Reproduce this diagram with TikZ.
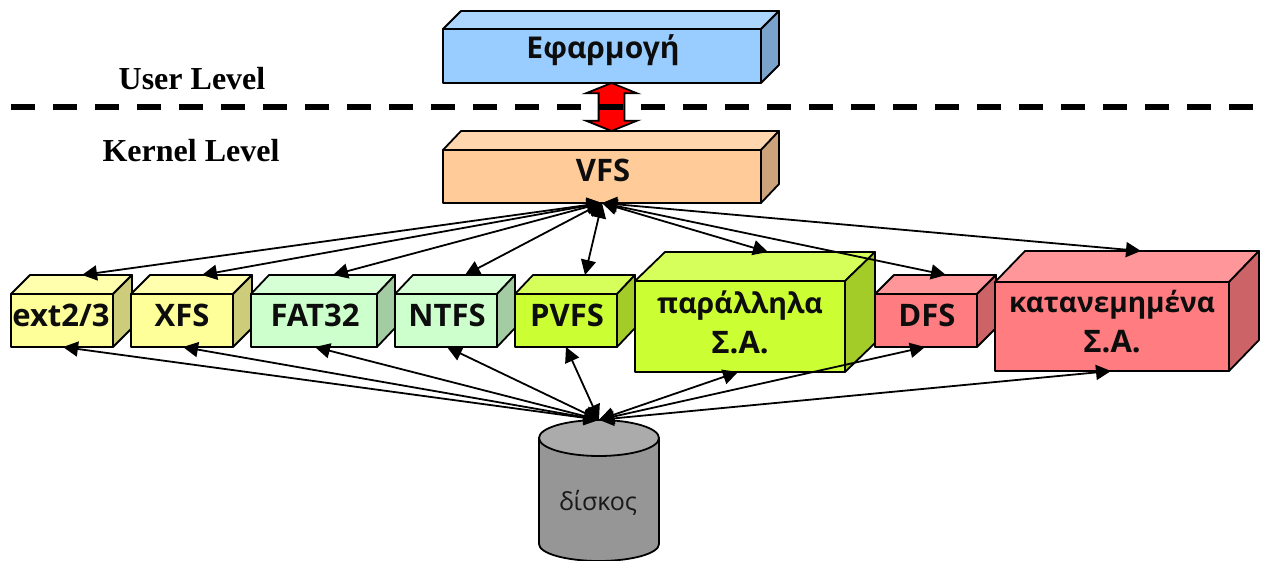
\documentclass[tikz,border=0pt]{standalone}
\usepackage{fontspec}
\setmainfont{Open Sans}
\newfontfamily\serifbold{Liberation Serif}
\usetikzlibrary{arrows.meta,shapes.arrows}
\definecolor{blueF}{HTML}{99CCFF}\definecolor{blueT}{HTML}{ADD6FF}\definecolor{blueS}{HTML}{7AA3CC}
\definecolor{orF}{HTML}{FFCC99}\definecolor{orT}{HTML}{FFD6AD}\definecolor{orS}{HTML}{CCA37A}
\definecolor{yeF}{HTML}{FFFF99}\definecolor{yeT}{HTML}{FFFFAD}\definecolor{yeS}{HTML}{CCCC7A}
\definecolor{grF}{HTML}{CCFFCC}\definecolor{grT}{HTML}{D6FFD6}\definecolor{grS}{HTML}{A3CCA3}
\definecolor{liF}{HTML}{CCFF33}\definecolor{liT}{HTML}{D6FF5C}\definecolor{liS}{HTML}{A3CC29}
\definecolor{piF}{HTML}{FF7C80}\definecolor{piT}{HTML}{FF9699}\definecolor{piS}{HTML}{CC6366}
\definecolor{diskF}{HTML}{969696}\definecolor{diskT}{HTML}{ABABAB}
\tikzset{
  edge/.style={draw=black,line width=1.8pt,line join=round},
  conn/.style={line width=1.8pt,{Triangle[length=15pt,width=15pt]}-{Triangle[length=15pt,width=15pt]}},
  boxlabel/.style={font=\fontsize{31}{40}\selectfont\bfseries,inner sep=0pt,align=center,text=black!95},
  levellabel/.style={font=\serifbold\fontsize{32}{36}\selectfont\bfseries,inner sep=0pt},
  frontface/.style={edge,inner sep=0pt,outer sep=0pt},
}
% name, x1, y1, x2, y2, dx, dy, colour prefix
\newcommand{\cubebox}[8]{%
  \draw[edge,fill=#8T] (#2,#3) -- ++(#6,-#7) -- (#4+#6,#3-#7) -- (#4,#3) -- cycle;
  \draw[edge,fill=#8S] (#4,#3) -- ++(#6,-#7) -- (#4+#6,#5-#7) -- (#4,#5) -- cycle;
  \node[frontface,fill=#8F,minimum width={(#4-#2)*1pt},minimum height={(#5-#3)*1pt}] (#1) at ({(#2+#4)/2},{(#3+#5)/2}) {};
}
\newcommand{\fsz}[1]{\fontsize{#1}{40}\selectfont}
\begin{document}
\begin{tikzpicture}[x=1pt,y=-1pt]
\useasboundingbox (0,0) rectangle (1263,561);
\fill[white] (0,0) rectangle (1263,561);

\cubebox{app}{443}{29}{761}{83}{18}{18}{blue}
\cubebox{vfs}{443}{150}{761}{203}{18}{19}{or}

\node[double arrow,draw=black,line width=1.8pt,fill=red,rotate=90,inner xsep=0pt,inner ysep=12pt,
  minimum height=48pt,minimum width=49pt,double arrow head extend=12.5pt,double arrow tip angle=136] (io) at (611.5,107) {};
\draw[line width=6pt,dash pattern=on 24pt off 18pt] (11,107) -- (1255,107);

\cubebox{ext}{11}{294}{113}{347}{19}{19}{ye}
\cubebox{xfs}{131}{294}{233}{347}{19}{19}{ye}
\cubebox{fat}{251}{294}{377}{347}{18}{19}{gr}
\cubebox{ntfs}{395}{294}{497}{347}{18}{19}{gr}
\cubebox{pvfs}{515}{294}{617}{347}{18}{19}{li}
\cubebox{par}{635}{281}{845}{372}{30}{29}{li}
\cubebox{dfs}{875}{294}{977}{347}{19}{19}{pi}
\cubebox{dist}{995}{282}{1229}{371}{30}{31}{pi}

% disk
\fill[diskF] (539,438) -- (539,544) arc[start angle=180,end angle=0,x radius=60,y radius=17] -- (659,438) -- cycle;
\draw[edge] (539,438) -- (539,544) arc[start angle=180,end angle=0,x radius=60,y radius=17] -- (659,438);
\draw[edge,fill=diskT] (599,438) ellipse[x radius=60,y radius=18];
\node[inner sep=0pt,minimum width=120pt,minimum height=141pt] (disk) at (599,490.5) {};
\node[inner sep=0pt,font=\fontsize{25}{28}\selectfont,text=black!90] (disktext) at (598,503) {δίσκος};

% labels
\node[boxlabel,font=\fontsize{30}{40}\selectfont\bfseries] (applabel) at (603,50) {Εφαρμογή};
\node[boxlabel] (vfslabel) at (603,170) {VFS};
\node[boxlabel] (extlabel) at (61,315) {ext2/3};
\node[boxlabel] (xfslabel) at (182,315) {XFS};
\node[boxlabel] (fatlabel) at (315,315) {FAT32};
\node[boxlabel] (ntfslabel) at (447,315) {NTFS};
\node[boxlabel] (pvfslabel) at (567,315) {PVFS};
\node[boxlabel] (parlabel) at (740,322) {\fsz{28.5}παράλληλα\\\fsz{31}Σ.Α.};
\node[boxlabel] (dfslabel) at (927,315) {DFS};
\node[boxlabel] (distlabel) at (1112,322) {\fsz{28}κατανεμημένα\\\fsz{31}Σ.Α.};
\node[levellabel] (userl) at (192,79) {User Level};
\node[levellabel] (kernl) at (191,151) {Kernel Level};

% connectors VFS <-> file systems
\draw[conn] (vfs.south) -- ([shift={(20,-19)}]ext.north);
\draw[conn] (vfs.south) -- ([shift={(20,-19)}]xfs.north);
\draw[conn] (vfs.south) -- ([shift={(19,-19)}]fat.north);
\draw[conn] (vfs.south) -- ([shift={(19,-19)}]ntfs.north);
\draw[conn] (vfs.south) -- ([shift={(19,-19)}]pvfs.north);
\draw[conn] (vfs.south) -- ([shift={(28,-29)}]par.north);
\draw[conn] (vfs.south) -- ([shift={(20,-19)}]dfs.north);
\draw[conn] (vfs.south) -- ([shift={(29,-31)}]dist.north);
% connectors disk <-> file systems
\draw[conn] (disk.north) -- ([shift={(1,0)}]ext.south);
\draw[conn] (disk.north) -- ([shift={(1,0)}]xfs.south);
\draw[conn] (disk.north) -- ([shift={(1,0)}]fat.south);
\draw[conn] (disk.north) -- ([shift={(1,0)}]ntfs.south);
\draw[conn] (disk.north) -- (pvfs.south);
\draw[conn] (disk.north) -- ([shift={(-2,0)}]par.south);
\draw[conn] (disk.north) -- ([shift={(-1,0)}]dfs.south);
\draw[conn] (disk.north) -- ([shift={(-1,0)}]dist.south);
\end{tikzpicture}
\end{document}
